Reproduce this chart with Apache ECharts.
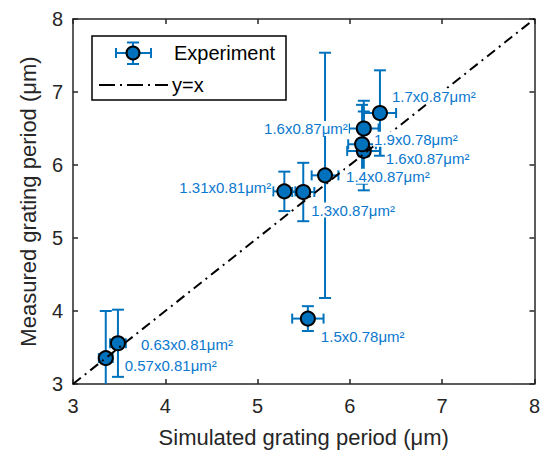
<!DOCTYPE html>
<html>
<head>
<meta charset="utf-8">
<script src="https://cdn.jsdelivr.net/npm/echarts@6/dist/echarts.min.js"></script>
<style>
html,body{margin:0;padding:0;background:#fff;}
#chart{width:543px;height:453px;}
</style>
</head>
<body>
<div id="chart"></div>
<script>
// ---- data ----
const simulatedPeriod = [3.355, 3.487, 5.545, 5.29, 5.495, 5.731, 6.151, 6.132, 6.151, 6.326];
const measuredPeriod  = [3.355, 3.558, 3.896, 5.639, 5.63, 5.858, 6.193, 6.284, 6.5, 6.712];
const simulatedErr    = [0.075, 0.085, 0.17, 0.12, 0.12, 0.145, 0.18, 0.15, 0.16, 0.175];
const measuredErr     = [0.645, 0.46, 0.17, 0.27, 0.40, 1.68, 0.54, 0.54, 0.38, 0.585];
const pointLabels = ['0.57x0.81\u03bcm\u00b2', '0.63x0.81\u03bcm\u00b2', '1.5x0.78\u03bcm\u00b2', '1.31x0.81\u03bcm\u00b2',
  '1.3x0.87\u03bcm\u00b2', '1.4x0.87\u03bcm\u00b2', '1.6x0.87\u03bcm\u00b2', '1.9x0.78\u03bcm\u00b2', '1.6x0.87\u03bcm\u00b2', '1.7x0.87\u03bcm\u00b2'];
const xTicks = [3, 4, 5, 6, 7, 8];
const yTicks = [3, 4, 5, 6, 7, 8];
const identityLine = [[3, 3], [8, 8]];

// ---- layout (pixel offsets of labels relative to their point, alignment) ----
const labelLayout = [
  [18, 7, 'left'], [22, 1, 'left'], [12, 18, 'left'], [-12, -4, 'right'], [7, 18, 'left'],
  [20, 1, 'left'], [21, 8, 'left'], [11, -5, 'left'], [-15, 0, 'right'], [11, -17, 'left']
];

const FONT = '"Liberation Sans", Arial, Helvetica, sans-serif';
const BLUE = '#0072BD';
const LBLUE = '#0A78CE';
const AX = '#262626';

const pts = simulatedPeriod.map((x, i) => [x, measuredPeriod[i], simulatedErr[i], measuredErr[i], i]);

const chart = echarts.init(document.getElementById('chart'), null, {renderer: 'svg'});

function axisBase(pos, showLabel, name) {
  return {
    type: 'value', min: xTicks[0], max: xTicks[xTicks.length - 1], interval: 1, position: pos,
    axisLine: {show: true, onZero: false, lineStyle: {color: AX, width: 1.5}},
    axisTick: {show: true, inside: true, length: 5, lineStyle: {color: AX, width: 1.5}},
    splitLine: {show: false},
    axisLabel: {show: showLabel, color: AX, fontSize: 20, fontFamily: FONT},
    name: name || '', nameLocation: 'middle',
    nameTextStyle: {color: AX, fontSize: 22, fontFamily: FONT}
  };
}

const xBottom = axisBase('bottom', true, 'Simulated grating period (\u03bcm)');
xBottom.axisLabel.margin = 12; xBottom.nameGap = 42;
const xTop = axisBase('top', false);
const yLeft = axisBase('left', true, 'Measured grating period (\u03bcm)');
yLeft.min = yTicks[0]; yLeft.max = yTicks[yTicks.length - 1];
yLeft.axisLabel.margin = 10; yLeft.nameGap = 34;
const yRight = axisBase('right', false);
yRight.min = yTicks[0]; yRight.max = yTicks[yTicks.length - 1];

const option = {
  animation: false,
  backgroundColor: '#fff',
  grid: {left: 73, right: 5, top: 19, bottom: 65, containLabel: false},
  xAxis: [xBottom, xTop],
  yAxis: [yLeft, yRight],
  series: [
    {
      type: 'custom', name: 'errorbars', clip: true, z: 2,
      data: pts,
      renderItem: function (params, api) {
        const x = api.value(0), y = api.value(1), ex = api.value(2), ey = api.value(3);
        const c = api.coord([x, y]);
        const top = api.coord([x, y + ey]), bot = api.coord([x, y - ey]);
        const lft = api.coord([x - ex, y]), rgt = api.coord([x + ex, y]);
        const cw = 6, ch = 5;
        const st = {stroke: BLUE, lineWidth: 2};
        const L = (x1, y1, x2, y2) => ({type: 'line', shape: {x1, y1, x2, y2}, style: st});
        return {type: 'group', children: [
          L(c[0], top[1], c[0], bot[1]),
          L(c[0] - cw, top[1], c[0] + cw, top[1]),
          L(c[0] - cw, bot[1], c[0] + cw, bot[1]),
          L(lft[0], c[1], rgt[0], c[1]),
          L(lft[0], c[1] - ch, lft[0], c[1] + ch),
          L(rgt[0], c[1] - ch, rgt[0], c[1] + ch)
        ]};
      }
    },
    {
      type: 'scatter', name: 'Experiment', z: 3,
      data: pts.map(p => [p[0], p[1]]),
      symbol: 'circle', symbolSize: 14,
      itemStyle: {color: BLUE, borderColor: '#000', borderWidth: 2, opacity: 1}
    },
    {
      type: 'line', name: 'y=x', z: 4,
      data: identityLine, showSymbol: false, symbol: 'none',
      lineStyle: {color: '#000', width: 2, type: [10, 5, 2, 5]}
    },
    {
      type: 'custom', name: 'labels', clip: false, z: 5,
      data: pts,
      renderItem: function (params, api) {
        const i = api.value(4);
        const c = api.coord([api.value(0), api.value(1)]);
        const lay = labelLayout[i];
        return {type: 'text', x: c[0] + lay[0], y: c[1] + lay[1],
          style: {text: pointLabels[i], fill: LBLUE, fontSize: 15, fontFamily: FONT,
            align: lay[2], verticalAlign: 'middle', backgroundColor: '#fff', padding: [0, 1]}};
      }
    }
  ],
  graphic: [
    {type: 'rect', shape: {x: 92, y: 36, width: 194, height: 64}, style: {fill: '#fff', stroke: '#000', lineWidth: 1.5}, z: 10},
    {type: 'line', shape: {x1: 116, y1: 53, x2: 151, y2: 53}, style: {stroke: BLUE, lineWidth: 2}, z: 11},
    {type: 'line', shape: {x1: 116, y1: 48, x2: 116, y2: 58}, style: {stroke: BLUE, lineWidth: 2}, z: 11},
    {type: 'line', shape: {x1: 151, y1: 48, x2: 151, y2: 58}, style: {stroke: BLUE, lineWidth: 2}, z: 11},
    {type: 'line', shape: {x1: 133, y1: 42.5, x2: 133, y2: 64}, style: {stroke: BLUE, lineWidth: 2}, z: 11},
    {type: 'line', shape: {x1: 127, y1: 42.5, x2: 139, y2: 42.5}, style: {stroke: BLUE, lineWidth: 2}, z: 11},
    {type: 'line', shape: {x1: 127, y1: 64, x2: 139, y2: 64}, style: {stroke: BLUE, lineWidth: 2}, z: 11},
    {type: 'circle', shape: {cx: 133, cy: 53, r: 6.5}, style: {fill: BLUE, stroke: '#000', lineWidth: 2}, z: 12},
    {type: 'text', x: 174, y: 53, style: {text: 'Experiment', fill: '#000', fontSize: 20, fontFamily: FONT, align: 'left', verticalAlign: 'middle'}, z: 12},
    {type: 'line', shape: {x1: 99, y1: 85, x2: 168, y2: 85}, style: {stroke: '#000', lineWidth: 2, lineDash: [16, 5, 2, 5]}, z: 11},
    {type: 'text', x: 172, y: 85, style: {text: 'y=x', fill: '#000', fontSize: 20, fontFamily: FONT, align: 'left', verticalAlign: 'middle'}, z: 12}
  ]
};
chart.setOption(option);
</script>
</body>
</html>
